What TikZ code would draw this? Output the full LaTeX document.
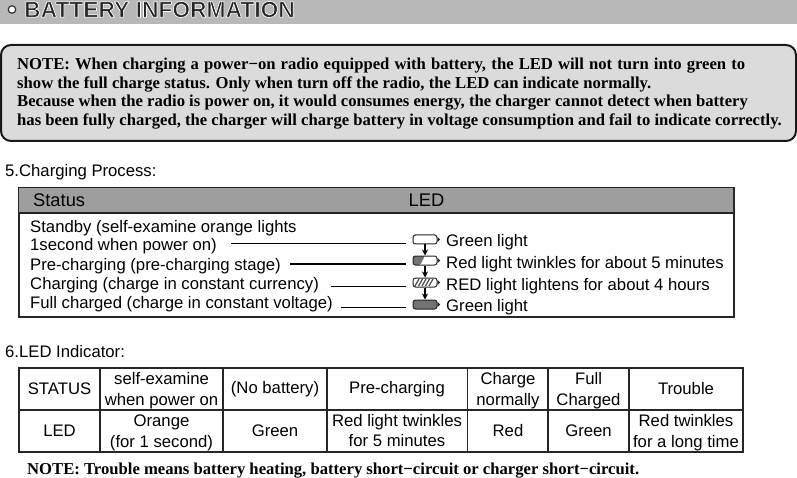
\documentclass[tikz,border=0pt]{standalone}
\usepackage{fontspec}
\setmainfont{Liberation Sans}
\newfontfamily\notefont{Liberation Serif}
\usetikzlibrary{arrows.meta}
\newcommand{\tallrow}{\rule{0pt}{15pt}}
\newcommand{\deeprow}{\rule[-4pt]{0pt}{4pt}}
\newcommand{\halotext}[1]{\special{pdf:code q 1 1 1 RG 0.7 w 2 Tr}#1\special{pdf:code Q}}

\begin{document}
\begin{tikzpicture}[
  x=1pt, y=-1pt,
  body/.style={anchor=west, inner sep=0pt, font=\fontsize{16.7}{18}\selectfont},
  headtext/.style={anchor=west, inner sep=0pt, font=\fontsize{18.3}{20}\selectfont},
  note/.style={anchor=west, inner sep=0pt, align=left, font=\notefont\bfseries\fontsize{16.65}{18.7}\selectfont},
  cell/.style={rectangle, draw=black!85, line width=1.2pt, minimum height=42pt, inner sep=0pt, align=center, font=\fontsize{16.7}{20.5}\selectfont},
  led/.style={rectangle, draw=black!85, line width=1pt, rounded corners=2.5pt, minimum width=24pt, minimum height=9pt, inner sep=0pt},
  lead/.style={black, line width=0.9pt},
  flow/.style={-{Stealth[length=6pt,width=6pt]}, black, line width=1.1pt}
]
\useasboundingbox (0,0) rectangle (797,478);

% Title band
\fill[black!28] (0,0) rectangle (797,24);
\node[circle, draw=black!80, fill=white, line width=1.2pt, minimum size=7.5pt, inner sep=0pt] (bullet) at (12,9.5) {};
\node[anchor=west, inner sep=0pt, black!85, font=\bfseries\fontsize{22.8}{24}\selectfont] (title) at (24,9.5) {\halotext{BATTERY INFORMATION}};

% Note box
\node[rectangle, draw=black!90, fill=black!14, line width=2pt, rounded corners=10pt, minimum width=795pt, minimum height=96pt, inner sep=0pt] (notebox) at (398.5,93) {};
\node[note] (notetext) at (17,93.5) {\makebox[728pt][s]{NOTE: When charging a power−on radio equipped with battery, the LED will not turn into green to}\\
show the full charge status. Only when turn off the radio, the LED can indicate normally.\\
Because when the radio is power on, it would consumes energy, the charger cannot detect when battery\\
has been fully charged, the charger will charge battery in voltage consumption and fail to indicate correctly.};

% Charging process
\node[body] (process) at (5,172.5) {5.Charging Process:};
\node[rectangle, draw=black!85, line width=1.6pt, minimum width=715pt, minimum height=129pt, inner sep=0pt] (panel) at (376.5,252.5) {};
\fill[black!38, draw=black!85, line width=1.2pt] (panel.north west) rectangle (734,213);
\node[headtext] (status) at (33,200) {Status};
\node[headtext] (ledhead) at (408.5,200) {LED};

\node[body] (standby) at (30,228) {Standby (self-examine orange lights};
\node[body] (standbyb) at (30,246.5) {1second when power on)};
\node[body] (pre) at (30,266.5) {Pre-charging (pre-charging stage)};
\node[body] (charge) at (30,285) {Charging (charge in constant currency)};
\node[body] (full) at (30,304) {Full charged (charge in constant voltage)};

% LEDs
\node[led, fill=white] (leda) at (425,239.5) {};
\node[led, fill=white, path picture={\fill[black!55] (-13,-5) -- (0,-5) -- (-5,5) -- (-13,5) -- cycle;}] (ledb) at (425,260.5) {};
\node[led, fill=white, path picture={\foreach \i in {-8,-4.5,...,9} \draw[black!70, line width=1.2pt] (\i-2,3.5) -- (\i+2,-3.5);}] (ledc) at (425,282.5) {};
\node[led, fill=black!55] (ledd) at (425,304.5) {};
\foreach \n in {leda,ledb,ledc,ledd}
  \fill[black!85] (\n.east) ++(0,-2.5) -- ++(2.5,2.5) -- ++(-2.5,2.5) -- cycle;

\draw[flow] (leda) -- (ledb);
\draw[flow] (ledb) -- (ledc);
\draw[flow] (ledc) -- (ledd);

\coordinate (la) at (231,243);
\coordinate (lb) at (290,264);
\coordinate (lc) at (331,286);
\coordinate (ld) at (341,307);
\coordinate (ra) at (406,243);
\coordinate (rb) at (406,264);
\coordinate (rc) at (406,286);
\coordinate (rd) at (406,307);
\draw[lead] (la) -- (ra);
\draw[lead, line width=1.5pt] (lb) -- (rb);
\draw[lead] (lc) -- (rc);
\draw[lead] (ld) -- (rd);

\node[body] (texta) at (446,242.5) {Green light};
\node[body] (textb) at (446,264) {Red light twinkles for about 5 minutes};
\node[body] (textc) at (446,286) {RED light lightens for about 4 hours};
\node[body] (textd) at (446,307.5) {Green light};

% LED indicator table
\node[body] (indicator) at (5,352) {6.LED Indicator:};

\node[cell, minimum width=81pt] (s0) at (59.5,389) {STATUS};
\node[cell, minimum width=123pt] (s1) at (161.5,389) {\tallrow self-examine\\when power on};
\node[cell, minimum width=104pt] (s2) at (275,389) {(No battery)};
\node[cell, minimum width=141pt] (s3) at (397,389) {Pre-charging};
\node[cell, minimum width=81pt] (s4) at (508,389) {\tallrow Charge\\normally};
\node[cell, minimum width=81pt] (s5) at (588.5,389) {\tallrow Full\\Charged};
\node[cell, minimum width=114pt] (s6) at (686,389) {Trouble};

\node[cell, minimum width=81pt] (l0) at (59.5,431) {LED};
\node[cell, minimum width=123pt] (l1) at (161.5,431) {\tallrow Orange\\(for 1 second)};
\node[cell, minimum width=104pt] (l2) at (275,431) {Green};
\node[cell, minimum width=141pt] (l3) at (397,431) {\tallrow Red light twinkles\\for 5 minutes\deeprow};
\node[cell, minimum width=81pt] (l4) at (508,431) {Red};
\node[cell, minimum width=81pt] (l5) at (588.5,431) {Green};
\node[cell, minimum width=114pt] (l6) at (686,431) {\tallrow Red twinkles\\for a long time};

\node[note] (trouble) at (27,471) {NOTE: Trouble means battery heating, battery short−circuit or charger short−circuit.};

\end{tikzpicture}
\end{document}
